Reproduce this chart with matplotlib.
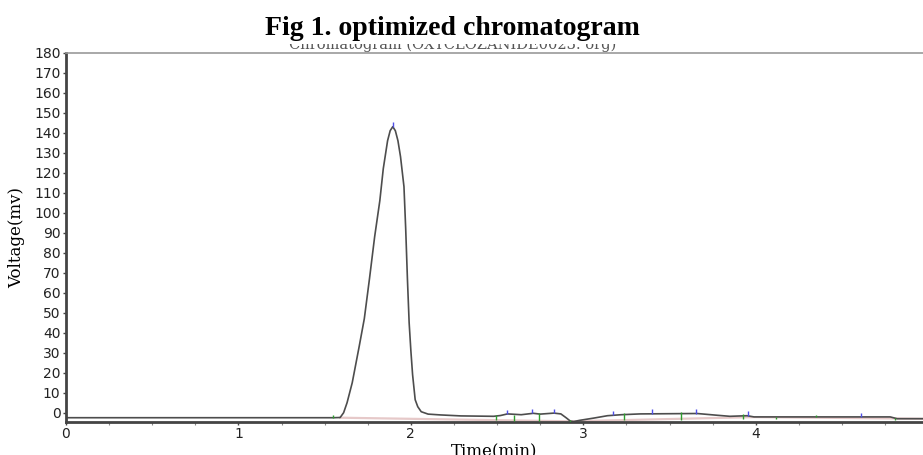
import matplotlib.pyplot as plt
from matplotlib.ticker import MultipleLocator

# chromatogram trace (min, mV)
time = [0.0, 1.55, 1.59, 1.61, 1.63, 1.66, 1.68, 1.70, 1.73, 1.76, 1.79,
        1.82, 1.84, 1.865, 1.88, 1.895, 1.91, 1.925, 1.94, 1.96, 1.97,
        1.98, 1.99, 2.0, 2.01, 2.025, 2.04, 2.06, 2.10, 2.17, 2.29, 2.48,
        2.52, 2.56, 2.64, 2.71, 2.75, 2.83, 2.87, 2.90, 2.925, 2.945, 2.98,
        3.06, 3.14, 3.22, 3.33, 3.66, 3.78, 3.85, 3.95, 3.99, 4.24, 4.78,
        4.82, 4.97]
volt = [-2.5, -2.5, -2.4, 0.0, 5.0, 15.0, 24.0, 33.0, 47.0, 67.0, 88.0,
        106.0, 122.0, 136.0, 141.0, 143.0, 141.0, 136.0, 128.0, 113.0, 92.0,
        67.0, 45.0, 31.0, 19.0, 6.5, 3.0, 0.5, -0.7, -1.1, -1.6, -1.8,
        -1.4, -0.6, -1.0, -0.3, -0.7, -0.2, -0.6, -2.5, -4.2, -4.4, -3.8,
        -2.7, -1.5, -1.0, -0.6, -0.4, -1.3, -1.8, -1.5, -2.1, -2.1, -2.1,
        -3.0, -3.0]

# integration baseline
base_t = [1.59, 2.925, 3.99, 4.97]
base_v = [-2.5, -4.3, -2.2, -3.0]

# peak apex marks
apex_t = [1.896, 2.557, 2.703, 2.832, 3.173, 3.40, 3.656, 3.954, 4.608]
apex_v = [143.0, -0.6, -0.3, -0.2, -1.3, -0.5, -0.4, -1.5, -2.1]

# peak start / end marks
edge_t = [1.548, 2.496, 2.60, 2.741, 2.925, 3.235, 3.567, 3.925, 4.12, 4.347, 4.81]
edge_top = [-1.0, -1.0, -1.0, -0.3, -3.5, -0.3, 0.3, -0.7, -2.0, -1.0, -2.5]
edge_bot = [-2.6, -3.8, -4.0, -4.3, -4.5, -3.8, -3.4, -3.0, -3.3, -2.1, -3.8]

x_ticks = [0, 1, 2, 3, 4]
y_ticks = list(range(0, 181, 10))

fig = plt.figure(figsize=(9.23, 4.55), dpi=100)
ax = fig.add_axes([0.0715, 0.0736, 0.9285, 0.8106])

ax.plot(base_t, base_v, color='#e6c9c9', lw=1.6, zorder=1)
ax.plot(time, volt, color='#4d4d4d', lw=1.2, zorder=2)
ax.vlines(apex_t, apex_v, [v + 2.2 for v in apex_v], color='#5050e8', lw=1.0, zorder=3)
ax.vlines(edge_t, edge_bot, edge_top, color='#2e9e2e', lw=1.0, zorder=3)

ax.set_xlim(0, 4.97)
ax.set_ylim(-4.4, 180)
ax.set_xticks(x_ticks)
ax.xaxis.set_minor_locator(MultipleLocator(0.25))
ax.set_yticks(y_ticks)

for s in ['left', 'bottom']:
    ax.spines[s].set_color('#444444')
    ax.spines[s].set_linewidth(2)
ax.spines['top'].set_color('#999999')
ax.spines['top'].set_linewidth(1.2)
ax.spines['right'].set_visible(False)

ax.tick_params(axis='both', which='major', length=2.5, width=1, color='#444444',
               labelsize=10, labelcolor='#222222', pad=1.5)
ax.tick_params(axis='x', which='minor', length=1.8, width=0.8, color='#888888')
for lab in ax.get_xticklabels() + ax.get_yticklabels():
    lab.set_family('DejaVu Sans')

ax.set_xlabel('Time(min)', family='DejaVu Serif', fontsize=12, labelpad=2)
ax.set_ylabel('Voltage(mv)', family='DejaVu Serif', fontsize=12, labelpad=6)

fig.text(0.49, 1 - 49.5 / 455, 'Chromatogram (OXYCLOZANIDE0023. org)',
         ha='center', va='baseline', family='DejaVu Serif', fontsize=10.5,
         color='#555555', zorder=5)
fig.text(0.49, 1 - 35 / 455, 'Fig 1. optimized chromatogram',
         ha='center', va='baseline', family='Liberation Serif', fontsize=20,
         fontweight='bold', zorder=6,
         bbox=dict(boxstyle='square,pad=0.12', facecolor='white', edgecolor='none'))

fig.savefig('out.png', dpi=100)
